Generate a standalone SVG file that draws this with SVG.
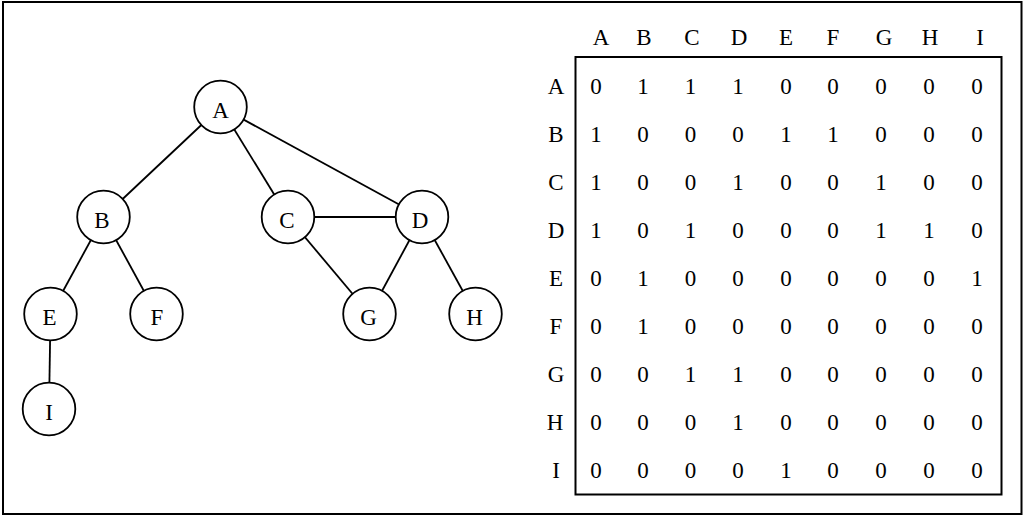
<svg xmlns="http://www.w3.org/2000/svg" width="1024" height="517" viewBox="0 0 1024 517">
<style>
.t{font-family:"Liberation Serif","Times New Roman",serif;font-size:23px;text-anchor:middle;fill:#000}
.n{fill:#fff;stroke:#000;stroke-width:1.8}
.e{stroke:#000;stroke-width:1.8;fill:none}
</style>
<rect x="0" y="0" width="1024" height="517" fill="#fff"/>
<rect x="3" y="2" width="1018.5" height="512" fill="none" stroke="#000" stroke-width="2"/>
<g id="connectors" class="e">
<line x1="220.5" y1="107" x2="103.5" y2="217"/>
<line x1="220.5" y1="107" x2="288" y2="217"/>
<line x1="220.5" y1="107" x2="422" y2="217"/>
<line x1="103.5" y1="217" x2="50.5" y2="314"/>
<line x1="103.5" y1="217" x2="156.5" y2="314"/>
<line x1="288" y1="217" x2="422" y2="217"/>
<line x1="288" y1="217" x2="369.5" y2="314"/>
<line x1="422" y1="217" x2="369.5" y2="314"/>
<line x1="422" y1="217" x2="475.5" y2="314"/>
<line x1="50.5" y1="314" x2="49" y2="409"/>
</g>
<g id="node-A"><circle class="n" cx="220.5" cy="107" r="26.3"/><text class="t" x="220.5" y="117.5">A</text></g>
<g id="node-B"><circle class="n" cx="103.5" cy="217" r="26.3"/><text class="t" x="102" y="228">B</text></g>
<g id="node-C"><circle class="n" cx="288" cy="217" r="26.3"/><text class="t" x="287" y="228">C</text></g>
<g id="node-D"><circle class="n" cx="422" cy="217" r="26.3"/><text class="t" x="420" y="228">D</text></g>
<g id="node-E"><circle class="n" cx="50.5" cy="314" r="26.3"/><text class="t" x="49.5" y="325">E</text></g>
<g id="node-F"><circle class="n" cx="156.5" cy="314" r="26.3"/><text class="t" x="157" y="325">F</text></g>
<g id="node-G"><circle class="n" cx="369.5" cy="314" r="26.3"/><text class="t" x="368.5" y="325">G</text></g>
<g id="node-H"><circle class="n" cx="475.5" cy="314" r="26.3"/><text class="t" x="474.5" y="325">H</text></g>
<g id="node-I"><circle class="n" cx="49" cy="409" r="26.3"/><text class="t" x="49" y="420">I</text></g>
<g id="matrix">
<rect x="575.5" y="57" width="426" height="437.5" fill="none" stroke="#000" stroke-width="2"/>
<g class="t">
<text x="601" y="44.5">A</text><text x="644" y="44.5">B</text><text x="692" y="44.5">C</text><text x="739" y="44.5">D</text><text x="786" y="44.5">E</text><text x="833" y="44.5">F</text><text x="884" y="44.5">G</text><text x="930" y="44.5">H</text><text x="980" y="44.5">I</text>
<text x="556" y="94">A</text><text x="556" y="142">B</text><text x="556" y="190">C</text><text x="556" y="238">D</text><text x="556" y="286">E</text><text x="556" y="334">F</text><text x="556" y="382">G</text><text x="555" y="430">H</text><text x="556" y="478">I</text>
</g>
<g class="t">
<text y="94"><tspan x="596">0</tspan><tspan x="643">1</tspan><tspan x="690.5">1</tspan><tspan x="738">1</tspan><tspan x="786">0</tspan><tspan x="833">0</tspan><tspan x="881">0</tspan><tspan x="929">0</tspan><tspan x="977">0</tspan></text>
<text y="142"><tspan x="596">1</tspan><tspan x="643">0</tspan><tspan x="690.5">0</tspan><tspan x="738">0</tspan><tspan x="786">1</tspan><tspan x="833">1</tspan><tspan x="881">0</tspan><tspan x="929">0</tspan><tspan x="977">0</tspan></text>
<text y="190"><tspan x="596">1</tspan><tspan x="643">0</tspan><tspan x="690.5">0</tspan><tspan x="738">1</tspan><tspan x="786">0</tspan><tspan x="833">0</tspan><tspan x="881">1</tspan><tspan x="929">0</tspan><tspan x="977">0</tspan></text>
<text y="238"><tspan x="596">1</tspan><tspan x="643">0</tspan><tspan x="690.5">1</tspan><tspan x="738">0</tspan><tspan x="786">0</tspan><tspan x="833">0</tspan><tspan x="881">1</tspan><tspan x="929">1</tspan><tspan x="977">0</tspan></text>
<text y="286"><tspan x="596">0</tspan><tspan x="643">1</tspan><tspan x="690.5">0</tspan><tspan x="738">0</tspan><tspan x="786">0</tspan><tspan x="833">0</tspan><tspan x="881">0</tspan><tspan x="929">0</tspan><tspan x="977">1</tspan></text>
<text y="334"><tspan x="596">0</tspan><tspan x="643">1</tspan><tspan x="690.5">0</tspan><tspan x="738">0</tspan><tspan x="786">0</tspan><tspan x="833">0</tspan><tspan x="881">0</tspan><tspan x="929">0</tspan><tspan x="977">0</tspan></text>
<text y="382"><tspan x="596">0</tspan><tspan x="643">0</tspan><tspan x="690.5">1</tspan><tspan x="738">1</tspan><tspan x="786">0</tspan><tspan x="833">0</tspan><tspan x="881">0</tspan><tspan x="929">0</tspan><tspan x="977">0</tspan></text>
<text y="430"><tspan x="596">0</tspan><tspan x="643">0</tspan><tspan x="690.5">0</tspan><tspan x="738">1</tspan><tspan x="786">0</tspan><tspan x="833">0</tspan><tspan x="881">0</tspan><tspan x="929">0</tspan><tspan x="977">0</tspan></text>
<text y="478"><tspan x="596">0</tspan><tspan x="643">0</tspan><tspan x="690.5">0</tspan><tspan x="738">0</tspan><tspan x="786">1</tspan><tspan x="833">0</tspan><tspan x="881">0</tspan><tspan x="929">0</tspan><tspan x="977">0</tspan></text>
</g>
</g>
</svg>
